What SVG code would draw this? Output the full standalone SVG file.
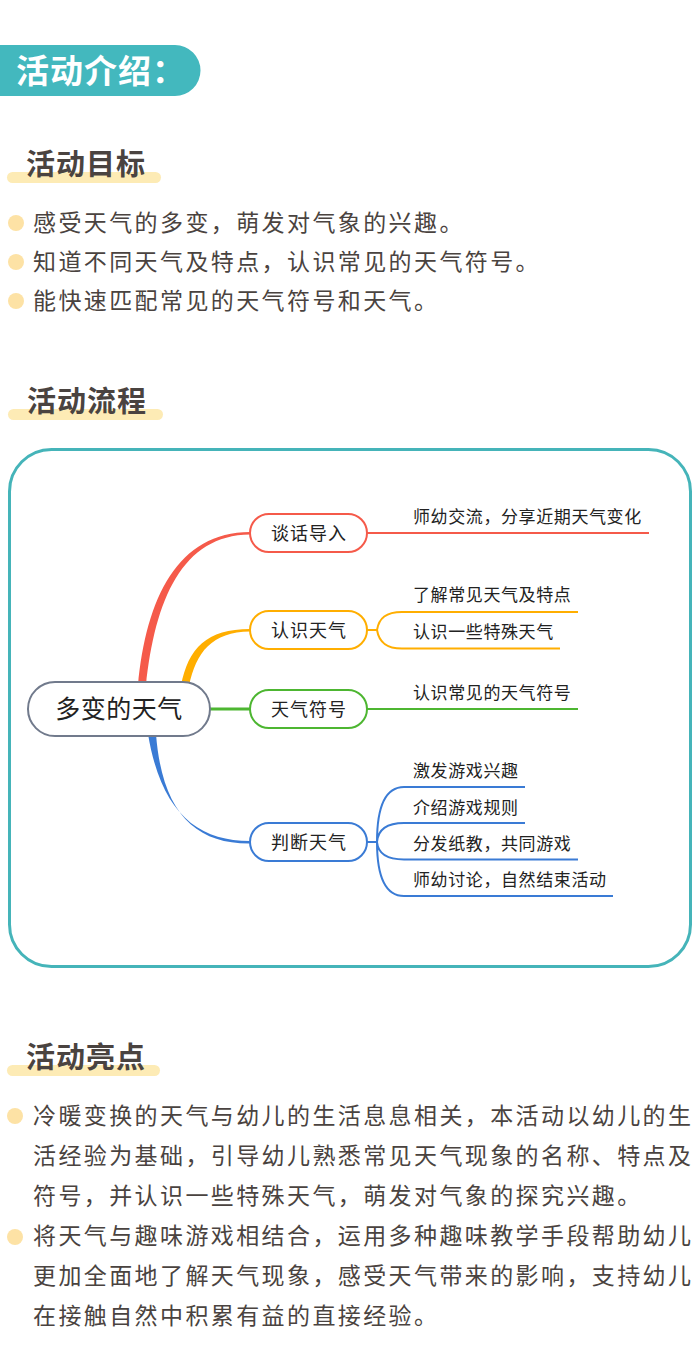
<svg xmlns="http://www.w3.org/2000/svg" width="700" height="1365" viewBox="0 0 700 1365">
<style>
.h{font-family:"Noto Sans CJK SC","Noto Sans",sans-serif;font-weight:700;font-size:29px;fill:#4a4340;letter-spacing:1px}
.bar{fill:#fdebb5}
.dot{fill:#fde2a5}
.p{font-family:"Noto Sans CJK SC","Noto Sans",sans-serif;font-size:23px;fill:#4a4340;letter-spacing:2.4px}
.nt{font-family:"Noto Sans CJK SC","Noto Sans",sans-serif;font-size:18px;fill:#222;text-anchor:middle;letter-spacing:1px}
.lt{font-family:"Noto Sans CJK SC","Noto Sans",sans-serif;font-size:17px;fill:#222;letter-spacing:0.6px}
.node{fill:#fff;stroke-width:2}
.ln{fill:none;stroke-width:2}
</style>
<rect width="700" height="1365" fill="#fff"/>
<g id="title">
<path d="M0,45 H175 A25.5,25.5 0 0 1 175,96 H0 Z" fill="#43b8be"/>
<text x="16" y="83" font-family="'Noto Sans CJK SC',sans-serif" font-weight="700" font-size="33" fill="#fff" letter-spacing="1">活动介绍：</text>
</g>
<g id="goal-heading">
<rect class="bar" x="7" y="172" width="154" height="11" rx="5.5"/>
<text class="h" x="26" y="175">活动目标</text>
</g>
<g id="goals">
<circle class="dot" cx="16" cy="223" r="8"/>
<text class="p" x="33" y="231">感受天气的多变，萌发对气象的兴趣。</text>
<circle class="dot" cx="16" cy="262" r="8"/>
<text class="p" x="33" y="270">知道不同天气及特点，认识常见的天气符号。</text>
<circle class="dot" cx="16" cy="301" r="8"/>
<text class="p" x="33" y="309">能快速匹配常见的天气符号和天气。</text>
</g>
<g id="flow-heading">
<rect class="bar" x="8" y="409" width="155" height="11" rx="5.5"/>
<text class="h" x="27" y="412">活动流程</text>
</g>
<rect id="frame" x="9.5" y="449.5" width="681" height="517" rx="42" fill="none" stroke="#45b4b9" stroke-width="3"/>
<g id="connectors">
<path d="M138,686 C146,598 178,532 250,532 L250,534.5 C182,535 155,600 146,686 Z" fill="#f55a4a"/>
<path d="M181,686 C188,648 207,629 250,629 L250,631.5 C212,632 196,652 189,686 Z" fill="#ffae00"/>
<path d="M205,707.5 H250 V710.5 H205 Z" fill="#4db631"/>
<path d="M148,734 C161,812 197,841 250,841 L250,843.5 C195,844 162,812 156,734 Z" fill="#3a7bd5"/>
<path class="ln" stroke="#f55a4a" d="M367,533 H649"/>
<path class="ln" stroke="#ffae00" d="M367,630 H377 C379,618 386,612 402,612 H578 M377,630 C379,642 386,648.5 402,648.5 H560"/>
<path class="ln" stroke="#4db631" d="M367,709 H578"/>
<path class="ln" stroke="#3a7bd5" d="M367,842 H377 C377,805 386,787 404,787 H525 M377,842 C378,830 386,823 404,823 H525 M377,842 C378,853 386,859.5 404,859.5 H578 M377,842 C377,878 386,896 404,896 H613"/>
</g>
<g id="center-node">
<rect class="node" x="28" y="682" width="182" height="54" rx="27" stroke="#717a8c"/>
<text x="119" y="718" font-family="'Noto Sans CJK SC',sans-serif" font-size="25" fill="#222" text-anchor="middle" letter-spacing="0.5">多变的天气</text>
</g>
<g id="n1">
<rect class="node" x="250" y="514" width="117" height="38" rx="19" stroke="#f55a4a"/>
<text class="nt" x="309" y="539.5">谈话导入</text>
</g>
<g id="n2">
<rect class="node" x="250" y="611" width="117" height="38" rx="19" stroke="#ffae00"/>
<text class="nt" x="309" y="636.5">认识天气</text>
</g>
<g id="n3">
<rect class="node" x="250" y="690" width="117" height="38" rx="19" stroke="#4db631"/>
<text class="nt" x="309" y="715.5">天气符号</text>
</g>
<g id="n4">
<rect class="node" x="250" y="823" width="117" height="38" rx="19" stroke="#3a7bd5"/>
<text class="nt" x="309" y="848.5">判断天气</text>
</g>
<g id="leaves">
<text class="lt" x="413" y="523">师幼交流，分享近期天气变化</text>
<text class="lt" x="413" y="601">了解常见天气及特点</text>
<text class="lt" x="413" y="638">认识一些特殊天气</text>
<text class="lt" x="413" y="699">认识常见的天气符号</text>
<text class="lt" x="413" y="777">激发游戏兴趣</text>
<text class="lt" x="413" y="813.5">介绍游戏规则</text>
<text class="lt" x="413" y="850">分发纸教，共同游戏</text>
<text class="lt" x="413" y="886">师幼讨论，自然结束活动</text>
</g>
<g id="highlight-heading">
<rect class="bar" x="7" y="1065" width="153" height="11" rx="5.5"/>
<text class="h" x="26" y="1068">活动亮点</text>
</g>
<g id="highlights">
<circle class="dot" cx="15" cy="1116" r="8"/>
<text class="p" x="33" y="1124">冷暖变换的天气与幼儿的生活息息相关，本活动以幼儿的生</text>
<text class="p" x="33" y="1164">活经验为基础，引导幼儿熟悉常见天气现象的名称、特点及</text>
<text class="p" x="33" y="1204">符号，并认识一些特殊天气，萌发对气象的探究兴趣。</text>
<circle class="dot" cx="15" cy="1237" r="8"/>
<text class="p" x="33" y="1244">将天气与趣味游戏相结合，运用多种趣味教学手段帮助幼儿</text>
<text class="p" x="33" y="1284">更加全面地了解天气现象，感受天气带来的影响，支持幼儿</text>
<text class="p" x="33" y="1324">在接触自然中积累有益的直接经验。</text>
</g>
</svg>
